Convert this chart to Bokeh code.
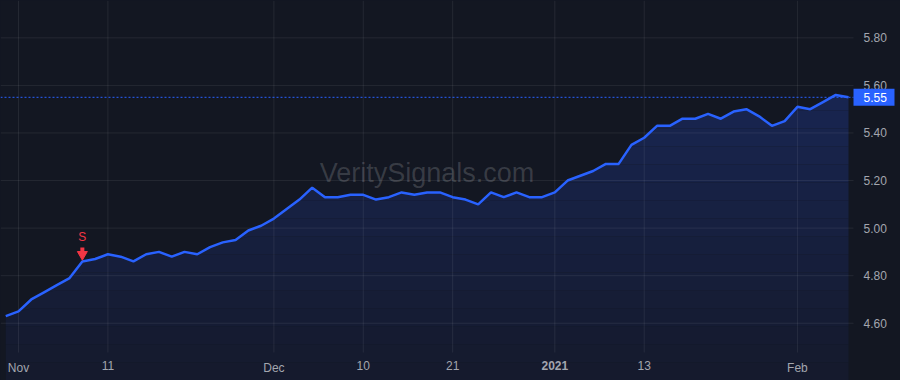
import numpy as np
from bokeh.plotting import figure
from bokeh.models import Label, Range1d
from bokeh.embed import file_html
from bokeh.resources import INLINE
from bokeh.core.properties import value

# ---------------- data ----------------
dates = [
    "2020-10-30",
    "2020-11-02", "2020-11-03", "2020-11-04", "2020-11-05", "2020-11-06",
    "2020-11-09", "2020-11-10", "2020-11-11", "2020-11-12", "2020-11-13",
    "2020-11-16", "2020-11-17", "2020-11-18", "2020-11-19", "2020-11-20",
    "2020-11-23", "2020-11-24", "2020-11-25", "2020-11-27", "2020-11-30",
    "2020-12-01", "2020-12-02", "2020-12-03", "2020-12-04",
    "2020-12-07", "2020-12-08", "2020-12-09", "2020-12-10", "2020-12-11",
    "2020-12-14", "2020-12-15", "2020-12-16", "2020-12-17", "2020-12-18",
    "2020-12-21", "2020-12-22", "2020-12-23", "2020-12-24",
    "2020-12-28", "2020-12-29", "2020-12-30", "2020-12-31",
    "2021-01-04", "2021-01-05", "2021-01-06", "2021-01-07", "2021-01-08",
    "2021-01-11", "2021-01-12", "2021-01-13", "2021-01-14", "2021-01-15",
    "2021-01-19", "2021-01-20", "2021-01-21", "2021-01-22",
    "2021-01-25", "2021-01-26", "2021-01-27", "2021-01-28", "2021-01-29",
    "2021-02-01", "2021-02-02", "2021-02-03", "2021-02-04", "2021-02-05",
]
prices = [
    4.63, 4.65, 4.70, 4.73, 4.76, 4.79, 4.86, 4.87, 4.89, 4.88,
    4.86, 4.89, 4.90, 4.88, 4.90, 4.89, 4.92, 4.94, 4.95, 4.99,
    5.01, 5.04, 5.08, 5.12, 5.17, 5.13, 5.13, 5.14, 5.14, 5.12,
    5.13, 5.15, 5.14, 5.15, 5.15, 5.13, 5.12, 5.10, 5.15, 5.13,
    5.15, 5.13, 5.13, 5.15, 5.20, 5.22, 5.24, 5.27, 5.27, 5.35,
    5.38, 5.43, 5.43, 5.46, 5.46, 5.48, 5.46, 5.49, 5.50, 5.47,
    5.43, 5.45, 5.51, 5.50, 5.53, 5.56, 5.55,
]
tick_dates = ["2020-11-02", "2020-11-11", "2020-12-01", "2020-12-10",
              "2020-12-21", "2021-01-04", "2021-01-13", "2021-02-01"]
tick_labels = ["Nov", "11", "Dec", "10", "21", "2021", "13", "Feb"]
year_label = "2021"
y_ticks = [4.60, 4.80, 5.00, 5.20, 5.40, 5.60, 5.80]
signal_date = "2020-11-09"
signal_text = "S"
watermark = "VeritySignals.com"

# ---------------- styling ----------------
BG = "#131722"
LINE = "#2962ff"
TXT = "#a3a6af"
RED = "#f23645"
FONT = "Liberation Sans"

idx = np.arange(len(dates))
y_arr = np.array(prices)
tick_pos = [dates.index(d) for d in tick_dates]
sig_i = dates.index(signal_date)
last_price = prices[-1]

# price pane (data area) and the scale-area sizes around it
x0, x1 = -0.41, 66.39
y0, y1 = 4.477, 5.957
PANE_W, PANE_H = 853, 352
W, H = 900, 380
pxx = (x1 - x0) / PANE_W
pxy = (y1 - y0) / PANE_H
X_HI = x0 + W * pxx
Y_LO = y0 - (H - PANE_H) * pxy

p = figure(width=W, height=H, output_backend="svg", toolbar_location=None,
           x_range=Range1d(x0, X_HI), y_range=Range1d(Y_LO, y1),
           x_axis_location=None, y_axis_location=None, min_border=0)
p.background_fill_color = BG
p.border_fill_color = BG
p.outline_line_color = None
p.grid.visible = False

# gradient area fill (absolute vertical bands)
top_c = np.array([0x19, 0x26, 0x52])
bot_c = np.array([0x15, 0x1a, 0x2c])
nb = 16
edges = np.linspace(Y_LO, max(prices) + 0.01, nb + 1)
for j in range(nb):
    t = (j + 0.5) / nb
    c = (bot_c + (top_c - bot_c) * t).astype(int)
    col = "#%02x%02x%02x" % tuple(c)
    lo = np.minimum(y_arr, edges[j])
    hi = np.minimum(y_arr, edges[j + 1])
    p.varea(x=idx, y1=lo, y2=hi, fill_color=col, fill_alpha=1.0)

# grid lines at the tick positions, limited to the price pane
p.segment(x0=tick_pos, y0=[y0] * len(tick_pos), x1=tick_pos, y1=[y1] * len(tick_pos),
          line_color="#ffffff", line_alpha=0.075, line_width=1)
p.segment(x0=[x0] * len(y_ticks), y0=y_ticks, x1=[x1] * len(y_ticks), y1=y_ticks,
          line_color="#ffffff", line_alpha=0.075, line_width=1)

# watermark
p.add_layout(Label(x=(x0 + x1) / 2, y=(y0 + y1) / 2, y_offset=4, text=watermark,
                   text_align="center", text_baseline="middle",
                   text_font=FONT, text_font_size="27px",
                   text_color="#ffffff", text_alpha=0.16))

# last-price dotted line
p.segment(x0=[x0], y0=[last_price], x1=[x1], y1=[last_price],
          line_color=LINE, line_width=1, line_dash="2 2")

# price line
p.line(idx, y_arr, line_color=LINE, line_width=2.5)

# signal marker
sv = prices[sig_i]
p.text(x=[sig_i], y=[sv], text=[signal_text], y_offset=-24,
       text_align="center", text_baseline="middle",
       text_font=value(FONT), text_font_size="12px", text_color=RED)
p.segment(x0=[sig_i], y0=[sv + 8 * pxy], x1=[sig_i], y1=[sv + 14 * pxy],
          line_color=RED, line_width=4)
p.scatter(x=[sig_i], y=[sv + 7 * pxy], marker="inverted_triangle", size=10,
          fill_color=RED, line_color=RED)

# price scale (right)
p.text(x=[x1] * len(y_ticks), y=y_ticks, text=["%.2f" % v for v in y_ticks],
       x_offset=10, text_align="left", text_baseline="middle",
       text_font=value(FONT), text_font_size="12px", text_color=TXT)

# last price tag
p.quad(left=[x1], right=[x1 + 41 * pxx],
       bottom=[last_price - 8.5 * pxy], top=[last_price + 8.5 * pxy],
       fill_color=LINE, line_color=None)
p.text(x=[x1], y=[last_price], text=["%.2f" % last_price], x_offset=10,
       text_align="left", text_baseline="middle",
       text_font=value(FONT), text_font_size="12px", text_color="#ffffff")

# time scale (bottom)
norm = [i for i, lab in enumerate(tick_labels) if lab != year_label]
bold = [i for i, lab in enumerate(tick_labels) if lab == year_label]
p.text(x=[tick_pos[i] for i in norm], y=[y0] * len(norm),
       text=[tick_labels[i] for i in norm], y_offset=8,
       text_align="center", text_baseline="top",
       text_font=value(FONT), text_font_size="12px", text_color=TXT)
p.text(x=[tick_pos[i] for i in bold], y=[y0] * len(bold),
       text=[tick_labels[i] for i in bold], y_offset=8,
       text_align="center", text_baseline="top", text_font_style="bold",
       text_font=value(FONT), text_font_size="12px", text_color=TXT)

html = file_html(p, INLINE)
html = html.replace("</head>",
                    "<style>html,body{background:%s;margin:0;}</style></head>" % BG, 1)
open("out.html", "w").write(html)
